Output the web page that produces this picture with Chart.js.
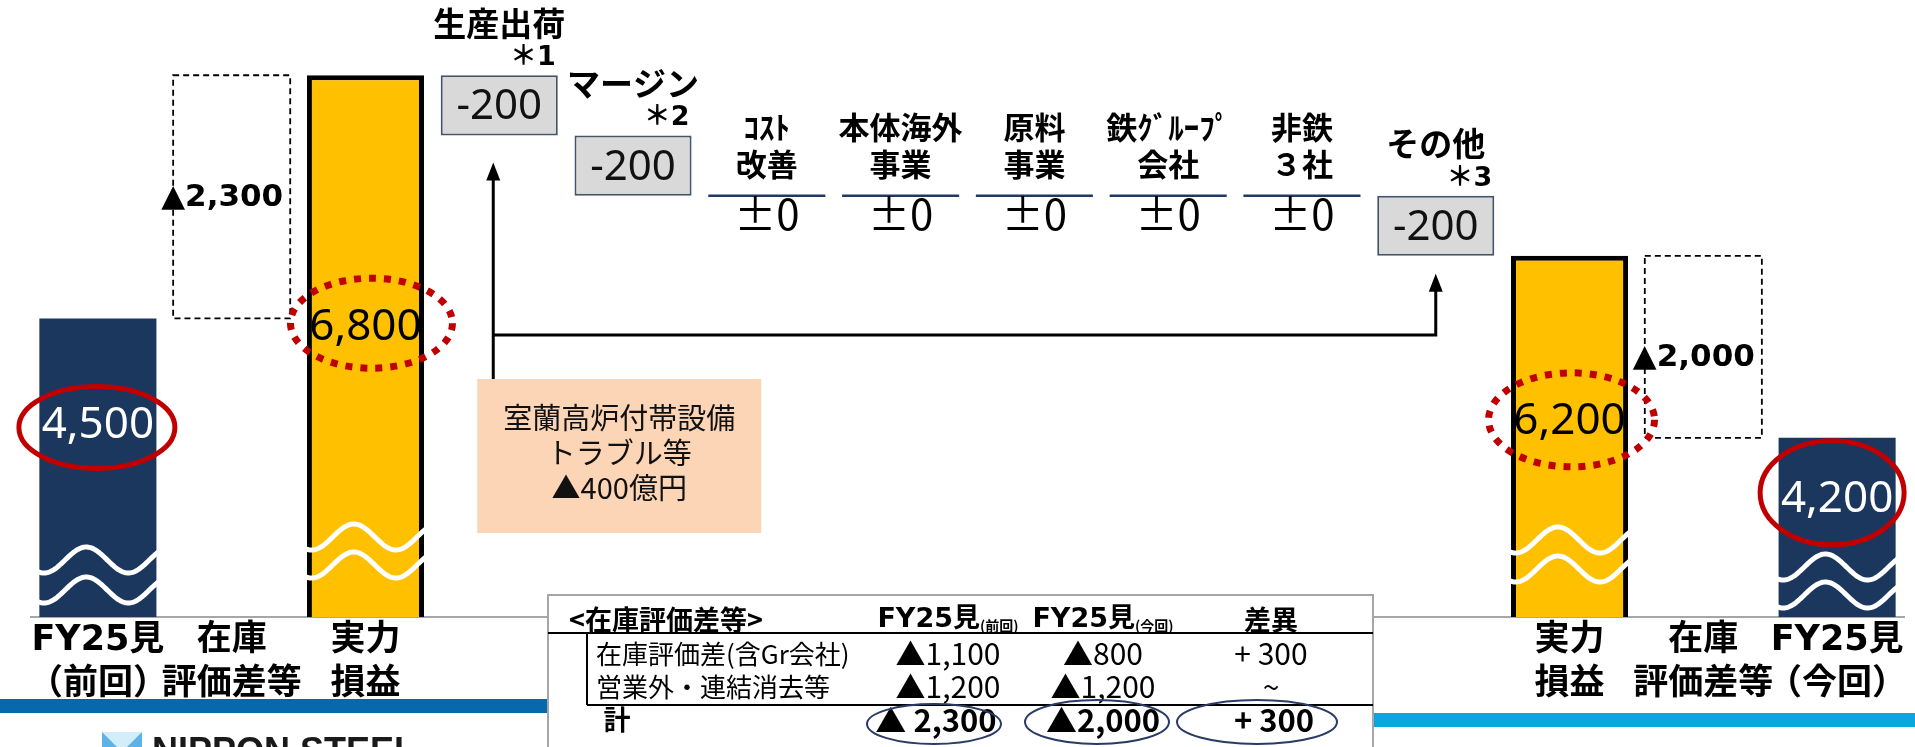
<!DOCTYPE html>
<html lang="ja">
<head>
  <meta charset="UTF-8">
  <meta name="viewport" content="width=device-width, initial-scale=1.0">
  <title>FY25 実力損益 増減</title>
  <style>
    html, body { margin: 0; padding: 0; background: #fff; overflow: hidden; }
    .canvas-con { width: 1915px; height: 747px; position: relative; }
  </style>
</head>
<body>
  <div class="canvas-con">
    <canvas id="myChart"></canvas>
  </div>

  <script src="https://cdn.jsdelivr.net/npm/chart.js"></script>
  <script>
  // columns, left to right
  const categories = ['FY25見（前回）', '在庫評価差等', '実力損益', '生産出荷', 'マージン', 'ｺｽﾄ改善', '本体海外事業',
    '原料事業', '鉄ｸﾞﾙｰﾌﾟ会社', '非鉄３社', 'その他', '実力損益', '在庫評価差等', 'FY25見（今回）'];
  const bottomLabels = [['FY25見', '（前回）'], ['在庫', '評価差等'], ['実力', '損益'], '', '', '', '', '', '', '', '',
    ['実力', '損益'], ['在庫', '評価差等'], ['FY25見', '（今回）']];

  // 億円
  const forecast = [4500, 4200];         // FY25見 前回 / 今回
  const coreProfit = [6800, 6200];       // 実力損益 前回 / 今回
  const inventoryDiff = [-2300, -2000];  // 在庫評価差等
  const stepLabels = [['生産出荷'], ['マージン'], ['ｺｽﾄ', '改善'], ['本体海外', '事業'], ['原料', '事業'],
    ['鉄ｸﾞﾙｰﾌﾟ', '会社'], ['非鉄', '３社'], ['その他']];
  const stepNotes = ['＊1', '＊2', '', '', '', '', '', '＊3'];
  const stepValues = [-200, -200, 0, 0, 0, 0, 0, -200];
  const noteText = ['室蘭高炉付帯設備', 'トラブル等', '▲400億円'];

  // <在庫評価差等> table
  const tableHead = ['<在庫評価差等>', 'FY25見', 'FY25見', '差異'];
  const tableHeadSub = ['', '(前回)', '(今回)', ''];
  const tableRows = ['在庫評価差(含Gr会社)', '営業外・連結消去等', '計'];
  const tablePrev = ['▲1,100', '▲1,200', '▲ 2,300'];
  const tableNow = ['▲800', '▲1,200', '▲2,000'];
  const tableDiff = ['+ 300', '~', '+ 300'];

  const n = categories.length;
  const forecastData = Array(n).fill(null);
  forecastData[0] = forecast[0];
  forecastData[n - 1] = forecast[1];
  const coreData = Array(n).fill(null);
  coreData[2] = coreProfit[0];
  coreData[11] = coreProfit[1];
  const stepData = Array(n).fill(null);
  let lvl = coreProfit[0];
  stepValues.forEach((v, i) => {
    if (v !== 0) stepData[3 + i] = [lvl + v, lvl];
    lvl += v;
  });

  const CJK = '"Noto Sans CJK JP"';
  const WIDE = '"DejaVu Sans", "Noto Sans CJK JP"';

  function label(ctx, s, x, y, font, color, align) {
    ctx.font = font;
    ctx.fillStyle = color || '#000';
    ctx.textAlign = align || 'center';
    ctx.textBaseline = 'middle';
    ctx.fillText(s, x, y);
  }
  function line(ctx, x1, y1, x2, y2) {
    ctx.beginPath();
    ctx.moveTo(x1, y1);
    ctx.lineTo(x2, y2);
    ctx.stroke();
  }
  function ellipse(ctx, cx, cy, rx, ry) {
    ctx.beginPath();
    ctx.ellipse(cx, cy, rx, ry, 0, 0, Math.PI * 2);
    ctx.stroke();
  }
  function arrowUp(ctx, x, tipY) {
    ctx.beginPath();
    ctx.moveTo(x, tipY);
    ctx.lineTo(x - 7, tipY + 18);
    ctx.lineTo(x + 7, tipY + 18);
    ctx.closePath();
    ctx.fill();
  }
  // axis-break marks
  function waves(ctx, cx, w, ys) {
    ctx.save();
    ctx.strokeStyle = '#fff';
    ctx.lineWidth = 5;
    ys.forEach(y0 => {
      ctx.beginPath();
      for (let t = -4; t <= w + 4; t++) {
        const yy = y0 - 13 * Math.cos(2 * Math.PI * (t - 0.4 * w) / (0.72 * w));
        if (t === -4) ctx.moveTo(cx - w / 2 + t, yy); else ctx.lineTo(cx - w / 2 + t, yy);
      }
      ctx.stroke();
    });
    ctx.restore();
  }

  const diagram = {
    id: 'diagram',
    beforeDraw: (chart) => {
      const ctx = chart.ctx;
      ctx.save();
      ctx.fillStyle = '#0868AE';
      ctx.fillRect(0, 699, 560, 14);
      ctx.fillStyle = '#0BA6E0';
      ctx.fillRect(1360, 713, 555, 14);
      // logo
      ctx.fillStyle = '#5DB3E6';
      ctx.fillRect(102, 732, 40, 40);
      ctx.fillStyle = '#D4EDFA';
      ctx.beginPath();
      ctx.moveTo(102, 732); ctx.lineTo(142, 732); ctx.lineTo(122, 752); ctx.closePath();
      ctx.fill();
      label(ctx, 'NIPPON STEEL', 152, 753, 'bold 36px "Liberation Sans"', '#1a1a1a', 'left');
      ctx.restore();
    },
    afterDatasetsDraw: (chart) => {
      const ctx = chart.ctx;
      const { x, y, y2 } = chart.scales;
      const colW = x.getPixelForValue(1) - x.getPixelForValue(0);
      const barW = colW * 0.875;
      const axes = { y, y2 };
      ctx.save();

      // dashed boxes for 在庫評価差等
      [1, 12].forEach((col, k) => {
        const cx = x.getPixelForValue(col);
        const top = y.getPixelForValue(coreProfit[k]);
        const bot = y2.getPixelForValue(coreProfit[k] + inventoryDiff[k]);
        ctx.save();
        ctx.setLineDash([6, 4]);
        ctx.lineWidth = 1.8;
        ctx.strokeStyle = '#000';
        ctx.strokeRect(cx - barW / 2, top, barW, bot - top);
        ctx.restore();
        const font = 'bold 31px "DejaVu Sans"';
        ctx.font = font;
        const tri = ctx.measureText('▲').width;
        const s = '▲' + Math.abs(inventoryDiff[k]).toLocaleString('en-US');
        label(ctx, s, cx - barW / 2 - tri / 2, (top + bot) / 2 + (k ? 11 : 1), font, '#000', 'left');
      });

      // totals: breaks, values, rings
      const marks = [
        { col: 0, val: forecast[0], axis: 'y2', fg: '#fff', dy: 105, ring: [-1, 4, 78, 41], dotted: false, br: [-57, -27] },
        { col: 2, val: coreProfit[0], axis: 'y', fg: '#000', dy: 250, ring: [6, -2, 81, 45], dotted: true, br: [-80, -52] },
        { col: 11, val: coreProfit[1], axis: 'y', fg: '#000', dy: 164, ring: [2, 0, 83, 47], dotted: true, br: [-77, -48] },
        { col: 13, val: forecast[1], axis: 'y2', fg: '#fff', dy: 60, ring: [-5, -5, 72, 52], dotted: false, br: [-50, -22] }
      ];
      const bottom = chart.chartArea.bottom;
      marks.forEach(m => {
        const cx = x.getPixelForValue(m.col);
        const top = axes[m.axis].getPixelForValue(m.val);
        waves(ctx, cx, barW, m.br.map(d => bottom + d));
        const ly = top + m.dy;
        label(ctx, m.val.toLocaleString('en-US'), cx, ly + 2, '44px "Noto Sans"', m.fg);
        ctx.save();
        ctx.strokeStyle = '#C00000';
        if (m.dotted) {
          ctx.lineWidth = 7;
          ctx.setLineDash([7, 8]);
        } else {
          ctx.lineWidth = 5;
        }
        ellipse(ctx, cx + m.ring[0], ly + m.ring[1], m.ring[2], m.ring[3]);
        ctx.restore();
      });

      // step labels
      let level = coreProfit[0];
      stepValues.forEach((v, i) => {
        const cx = x.getPixelForValue(3 + i);
        const next = level + v;
        if (v !== 0) {
          const top = y.getPixelForValue(level);
          const bot = y.getPixelForValue(next);
          label(ctx, String(v), cx, (top + bot) / 2 + 2, '42px "Noto Sans"', '#111');
          label(ctx, stepLabels[i][0], cx, top - 52, 'bold 33px ' + CJK, '#000');
          if (stepNotes[i]) label(ctx, stepNotes[i], cx + barW / 2 - 2, top - 17, 'bold 27px ' + WIDE, '#000', 'right');
        } else {
          const ly = y.getPixelForValue(level);
          ctx.strokeStyle = '#1F3864';
          ctx.lineWidth = 2.5;
          line(ctx, cx - barW / 2, ly, cx + barW / 2, ly);
          label(ctx, '±0', cx, ly + 18, '42px ' + CJK, '#000');
          label(ctx, stepLabels[i][0], cx, ly - 68, 'bold 31px ' + CJK, '#000');
          label(ctx, stepLabels[i][1], cx, ly - 31, 'bold 31px ' + CJK, '#000');
        }
        level = next;
      });

      // 室蘭 note and arrows
      const ax1 = x.getPixelForValue(3) - 6;
      const ax2 = x.getPixelForValue(10);
      const ay = 335;
      const boxTop = 379;
      const tip1 = y.getPixelForValue(coreProfit[0] + stepValues[0]) + 27;
      const tip2 = y.getPixelForValue(coreProfit[1]) + 18;
      ctx.fillStyle = '#FBD5B5';
      ctx.fillRect(ax1 - 16, boxTop, 284, 154);
      noteText.forEach((s, i) => label(ctx, s, ax1 - 16 + 142, 418 + i * 35, '29px ' + CJK, '#111'));
      ctx.strokeStyle = '#000';
      ctx.fillStyle = '#000';
      ctx.lineWidth = 3;
      ctx.beginPath();
      ctx.moveTo(ax1, boxTop);
      ctx.lineTo(ax1, tip1 + 12);
      ctx.moveTo(ax1, ay);
      ctx.lineTo(ax2, ay);
      ctx.lineTo(ax2, tip2 + 12);
      ctx.stroke();
      arrowUp(ctx, ax1, tip1);
      arrowUp(ctx, ax2, tip2);

      // table
      const tx = 548, ty = 595, tw = 825;
      ctx.fillStyle = '#fff';
      ctx.fillRect(tx, ty, tw, 170);
      ctx.strokeStyle = '#A6A6A6';
      ctx.lineWidth = 2;
      ctx.strokeRect(tx, ty, tw, 170);
      ctx.strokeStyle = '#000';
      line(ctx, tx, 633, tx + tw, 633);
      line(ctx, 587, 633, 587, 705);
      line(ctx, 587, 705, tx + tw, 705);
      const colX = [948, 1103, 1271];
      label(ctx, tableHead[0], 569, 620, 'bold 27px ' + CJK, '#000', 'left');
      [1, 2].forEach(j => {
        ctx.font = 'bold 27px ' + WIDE;
        const w1 = ctx.measureText(tableHead[j]).width;
        ctx.font = 'bold 14px ' + CJK;
        const w2 = ctx.measureText(tableHeadSub[j]).width;
        const x0 = colX[j - 1] - (w1 + w2) / 2;
        label(ctx, tableHead[j], x0, 620, 'bold 27px ' + WIDE, '#000', 'left');
        label(ctx, tableHeadSub[j], x0 + w1, 626, 'bold 14px ' + CJK, '#000', 'left');
      });
      label(ctx, tableHead[3], colX[2], 620, 'bold 27px ' + CJK, '#000');
      const rowY = [654, 687, 720];
      tableRows.forEach((s, r) => {
        const bold = r === 2;
        const f = (bold ? 'bold 31px ' : '30px ') + CJK;
        if (bold) label(ctx, s, 617, rowY[r], 'bold 27px ' + CJK, '#000');
        else label(ctx, s, 596, rowY[r], '26px ' + CJK, '#000', 'left');
        label(ctx, tablePrev[r], colX[0] - (bold ? 12 : 0), rowY[r], f, '#000');
        label(ctx, tableNow[r], colX[1], rowY[r], f, '#000');
        label(ctx, tableDiff[r], colX[2] + (bold ? 3 : 0), rowY[r], f, '#000');
      });
      ctx.strokeStyle = '#2A3B66';
      ctx.lineWidth = 2;
      ellipse(ctx, 934, 724, 67, 20);
      ellipse(ctx, 1097, 722, 72, 22);
      ellipse(ctx, 1257, 722, 80, 22);
      ctx.restore();
    }
  };

  const myChart = new Chart(document.getElementById('myChart'), {
    type: 'bar',
    data: {
      labels: bottomLabels,
      datasets: [
        { label: 'FY25見', data: forecastData, yAxisID: 'y2', backgroundColor: '#1C375E', borderWidth: 0 },
        { label: '実力損益', data: coreData, yAxisID: 'y', backgroundColor: '#FFC000', borderColor: '#000',
          borderWidth: 5, borderSkipped: false },
        { label: '増減', data: stepData, yAxisID: 'y', backgroundColor: '#D9D9D9', borderColor: '#44546A',
          borderWidth: 2, borderSkipped: false }
      ]
    },
    options: {
      responsive: true,
      maintainAspectRatio: false,
      animation: false,
      layout: { padding: { left: 31, right: 11, top: 0, bottom: 0 } },
      datasets: { bar: { grouped: false, barPercentage: 0.875, categoryPercentage: 1 } },
      plugins: {
        legend: { display: false },
        tooltip: { enabled: false }
      },
      scales: {
        x: {
          grid: { display: false, drawTicks: false },
          border: { display: true, color: '#A6A6A6', width: 2 },
          ticks: {
            autoSkip: false,
            maxRotation: 0,
            minRotation: 0,
            padding: 2,
            color: '#000',
            font: { family: WIDE, size: 35, weight: 'bold', lineHeight: 1.25 }
          },
          afterFit: (scale) => { scale.height = 130; }
        },
        // broken axes (not to scale, as in the original slide)
        y: { display: false, min: 5000, max: 7050 },
        y2: { display: false, min: 3750, max: 5300 }
      }
    },
    plugins: [diagram]
  });
  </script>
</body>
</html>
